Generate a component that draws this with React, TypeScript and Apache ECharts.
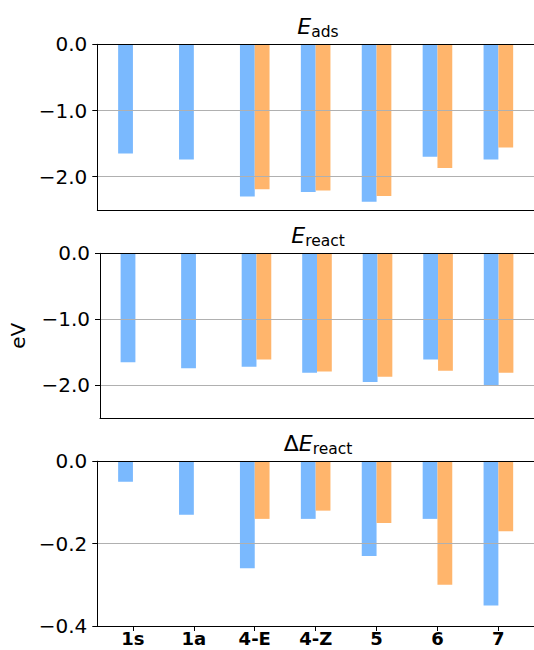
import React, { useEffect, useRef } from "react";
import * as echarts from "echarts";

const categories = ["1s", "1a", "4-E", "4-Z", "5", "6", "7"];
const eadsBlue = [-1.65, -1.74, -2.3, -2.23, -2.38, -1.7, -1.74];
const eadsOrange = [null, null, -2.19, -2.21, -2.29, -1.87, -1.56];
const ereactBlue = [-1.65, -1.74, -1.72, -1.81, -1.95, -1.61, -2.0];
const ereactOrange = [null, null, -1.61, -1.79, -1.87, -1.78, -1.81];
const dreactBlue = [-0.05, -0.13, -0.26, -0.14, -0.23, -0.14, -0.35];
const dreactOrange = [null, null, -0.14, -0.12, -0.15, -0.3, -0.17];
const yTicksEnergy = [0, -1, -2];
const yTicksDelta = [0, -0.2, -0.4];
const panelTitles = ["{e|E}{s|ads}", "{e|E}{s|react}", "{d|Δ}{e|E}{s|react}"];

const FONT = "DejaVu Sans";
const BLUE = "#7ab9fe";
const ORANGE = "#ffb56c";
const XMIN = -0.585;
const XMAX = 6.585;

const grids = [
  { left: 97.3, top: 44.3, width: 441.4, height: 165.5 },
  { left: 97.3, top: 253.3, width: 441.4, height: 165 },
  { left: 97.3, top: 461.2, width: 441.4, height: 164.8 },
];

const toPairs = (vals: (number | null)[]) =>
  vals.map((v, i) => [i, v]).filter((p) => p[1] !== null);

const fmtY = (v: number) => {
  const a = Math.abs(v).toFixed(1);
  return v < -1e-9 ? "\u2212" + a : a;
};

export default function App() {
  const ref = useRef<HTMLDivElement>(null);
  useEffect(() => {
    if (!ref.current) return;
    const chart = echarts.init(ref.current, undefined, { renderer: "svg" });
    const panels = [
      { blue: eadsBlue, orange: eadsOrange, min: -2.5, ticks: yTicksEnergy, step: 1 },
      { blue: ereactBlue, orange: ereactOrange, min: -2.5, ticks: yTicksEnergy, step: 1 },
      { blue: dreactBlue, orange: dreactOrange, min: -0.4, ticks: yTicksDelta, step: 0.2 },
    ];
    const catIdx = categories.map((_, i) => i);
    const xAxis: any[] = [];
    const yAxis: any[] = [];
    const series: any[] = [];
    const title: any[] = [];
    panels.forEach((p, g) => {
      xAxis.push({
        type: "value",
        gridIndex: g,
        min: XMIN,
        max: XMAX,
        position: "bottom",
        z: 5,
        axisLine: { show: true, onZero: false, lineStyle: { color: "#000", width: 1 } },
        axisTick: {
          show: g === 2,
          customValues: catIdx,
          length: 5,
          lineStyle: { color: "#000", width: 1 },
        },
        axisLabel: {
          show: g === 2,
          customValues: catIdx,
          formatter: (v: number) => categories[Math.round(v)] ?? "",
          fontFamily: FONT,
          fontWeight: "bold",
          fontSize: 18,
          lineHeight: 18,
          color: "#000",
          margin: 3,
        },
        splitLine: { show: false },
      });
      xAxis.push({
        type: "value",
        gridIndex: g,
        min: XMIN,
        max: XMAX,
        position: "top",
        z: 5,
        axisLine: { show: true, onZero: false, lineStyle: { color: "#000", width: 1 } },
        axisTick: { show: false },
        axisLabel: { show: false },
        splitLine: { show: false },
      });
      yAxis.push({
        type: "value",
        gridIndex: g,
        min: p.min,
        max: 0,
        minInterval: p.step,
        maxInterval: p.step,
        name: g === 1 ? "eV" : "",
        nameLocation: "middle",
        nameGap: 72,
        nameTextStyle: { fontFamily: FONT, fontSize: 20, color: "#000" },
        z: 5,
        axisLine: { show: true, onZero: false, lineStyle: { color: "#000", width: 1 } },
        axisTick: {
          show: true,
          customValues: p.ticks,
          length: 5,
          lineStyle: { color: "#000", width: 1 },
        },
        axisLabel: {
          customValues: p.ticks,
          formatter: fmtY,
          fontFamily: FONT,
          fontSize: 20,
          color: "#000",
          margin: 10,
        },
        splitLine: { show: true, lineStyle: { color: "#b0b0b0", width: 1 } },
      });
      series.push({
        type: "bar",
        xAxisIndex: g * 2,
        yAxisIndex: g,
        data: toPairs(p.blue),
        barWidth: 14.8,
        barGap: "0%",
        itemStyle: { color: BLUE },
      });
      series.push({
        type: "bar",
        xAxisIndex: g * 2,
        yAxisIndex: g,
        data: toPairs(p.orange),
        barWidth: 14.8,
        barGap: "0%",
        itemStyle: { color: ORANGE },
      });
      title.push({
        text: panelTitles[g],
        left: 318,
        textAlign: "center",
        top: grids[g].top - 29,
        padding: 0,
        textStyle: {
          fontFamily: FONT,
          fontWeight: "normal",
          color: "#000",
          rich: {
            e: { fontFamily: FONT, fontSize: 22, fontStyle: "italic", color: "#000", verticalAlign: "bottom", padding: [0, 0, 2.5, 0] },
            d: { fontFamily: FONT, fontSize: 22, color: "#000", verticalAlign: "bottom", padding: [0, 0, 2.5, 0] },
            s: { fontFamily: FONT, fontSize: 15.5, color: "#000", verticalAlign: "bottom" },
          },
        },
      });
    });
    chart.setOption({
      animation: false,
      backgroundColor: "#fff",
      title,
      grid: grids,
      xAxis,
      yAxis,
      series,
    });
    return () => chart.dispose();
  }, []);
  return (
    <div
      ref={ref}
      style={{ position: "fixed", left: 0, top: 0, width: 534, height: 650 }}
    />
  );
}
